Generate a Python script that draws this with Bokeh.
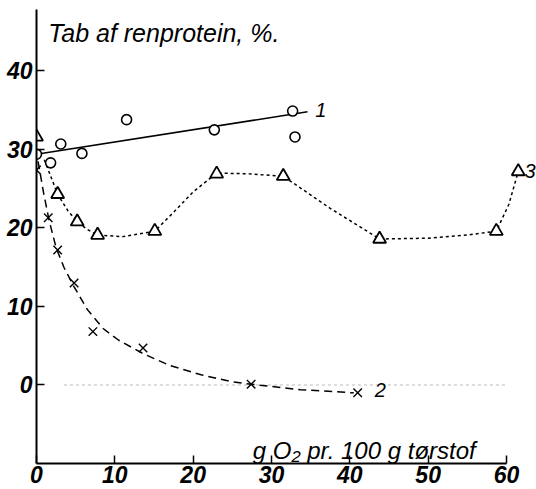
from bokeh.plotting import figure
from bokeh.models import Range1d, FixedTicker, Label
from bokeh.embed import file_html
from bokeh.resources import INLINE

# ---- data ----
# Series 1 (circles) and its straight line
s1_x = [0.0, 1.8, 3.1, 5.8, 11.5, 22.7, 32.7, 33.0]
s1_y = [29.4, 28.3, 30.7, 29.5, 33.8, 32.5, 34.9, 31.6]
line1_x = [0.0, 34.6]
line1_y = [29.4, 34.8]

# Series 2 (crosses) and its dashed curve
s2_x = [0.0, 1.5, 2.7, 4.8, 7.2, 13.6, 27.4, 41.0]
s2_y = [27.4, 21.3, 17.2, 13.0, 6.8, 4.7, 0.1, -1.0]
curve2_x = [0.2, 0.9, 1.6, 2.5, 3.5, 4.8, 6.5, 8.5, 10.5, 13.6, 17.0, 21.0, 25.0, 27.4, 33.7, 40.5]
curve2_y = [28.5, 24.5, 21.0, 17.5, 15.0, 12.5, 9.6, 7.2, 5.7, 4.0, 2.5, 1.3, 0.4, 0.1, -0.6, -1.0]

# Series 3 (triangles) and its dotted curve
s3_x = [0.0, 2.7, 5.2, 7.8, 15.1, 23.0, 31.5, 43.8, 58.7, 61.5]
s3_y = [31.6, 24.3, 20.8, 19.1, 19.6, 26.9, 26.6, 18.6, 19.6, 27.2]
curve3_x = [1.0, 2.7, 4.0, 5.2, 6.5, 7.8, 11.0, 15.1, 17.5, 20.0, 23.0, 27.0, 31.5, 37.5, 43.8, 50.0, 55.0, 58.7, 60.3, 61.5]
curve3_y = [28.7, 24.3, 22.2, 20.8, 19.8, 19.1, 18.9, 19.6, 22.0, 24.6, 27.0, 26.9, 26.6, 22.5, 18.6, 18.7, 19.1, 19.6, 23.0, 27.2]

# faint zero reference line
zero_x = [3.5, 60.0]
zero_y = [0.0, 0.0]

x_ticks = [0, 10, 20, 30, 40, 50, 60]
y_ticks = [0, 10, 20, 30, 40]

title_text = "Tab af renprotein, %."
xlabel_text = "g O\u2082 pr. 100 g t\u00f8rstof"
series_names = ["1", "2", "3"]

FONT = "Liberation Sans"

p = figure(width=536, height=489,
           x_range=Range1d(0, 63.83), y_range=Range1d(-10, 48.98),
           output_backend="svg", toolbar_location=None,
           min_border_left=36, min_border_right=0,
           min_border_top=0, min_border_bottom=26)
p.outline_line_color = None
p.xgrid.visible = False
p.ygrid.visible = False
p.background_fill_color = "white"
p.border_fill_color = "white"

for ax in (p.xaxis[0], p.yaxis[0]):
    ax.axis_line_width = 2
    ax.axis_line_color = "black"
    ax.major_tick_in = 8
    ax.major_tick_out = 0
    ax.major_tick_line_width = 1.5
    ax.minor_tick_line_color = None
    ax.major_label_text_font = FONT
    ax.major_label_text_font_style = "bold italic"
    ax.major_label_text_font_size = "23px"
    ax.major_label_text_color = "black"

p.xaxis[0].ticker = FixedTicker(ticks=x_ticks)
p.yaxis[0].ticker = FixedTicker(ticks=y_ticks)
p.xaxis[0].bounds = (0, 60)
p.yaxis[0].bounds = (-10, 47.8)
p.xaxis[0].major_label_standoff = 2
p.yaxis[0].major_label_standoff = 4

# faint zero line
p.line(zero_x, zero_y, line_color="#bbbbbb", line_width=1, line_dash="3 3")

# lines / curves
p.line(line1_x, line1_y, line_color="black", line_width=1.6)
p.line(curve2_x, curve2_y, line_color="black", line_width=1.5, line_dash="8 5")
p.line(curve3_x, curve3_y, line_color="black", line_width=1.5, line_dash="3 3")

# markers
p.scatter(s1_x, s1_y, marker="circle", size=10, fill_color="white",
          line_color="black", line_width=1.6)
p.scatter(s3_x, s3_y, marker="triangle", size=13, fill_color="white",
          line_color="black", line_width=1.8)
p.scatter(s2_x, s2_y, marker="x", size=12, line_color="black", line_width=1.4)

# texts
common = dict(text_font=FONT, text_font_style="italic", text_color="black")
p.add_layout(Label(x=1.5, y=44.8, text=title_text, text_font_size="25px",
                   text_baseline="alphabetic", text_align="left", **common))
p.add_layout(Label(x=27.6, y=-8.4, text=xlabel_text, text_font_size="24px",
                   text_baseline="alphabetic", text_align="left", **common))
p.add_layout(Label(x=36.3, y=35.0, text=series_names[0], text_font_size="20px",
                   text_baseline="middle", text_align="center", **common))
p.add_layout(Label(x=43.9, y=-0.6, text=series_names[1], text_font_size="20px",
                   text_baseline="middle", text_align="center", **common))
p.add_layout(Label(x=63.0, y=27.3, text=series_names[2], text_font_size="20px",
                   text_baseline="middle", text_align="center", **common))

open("out.html", "w").write(file_html(p, INLINE))
